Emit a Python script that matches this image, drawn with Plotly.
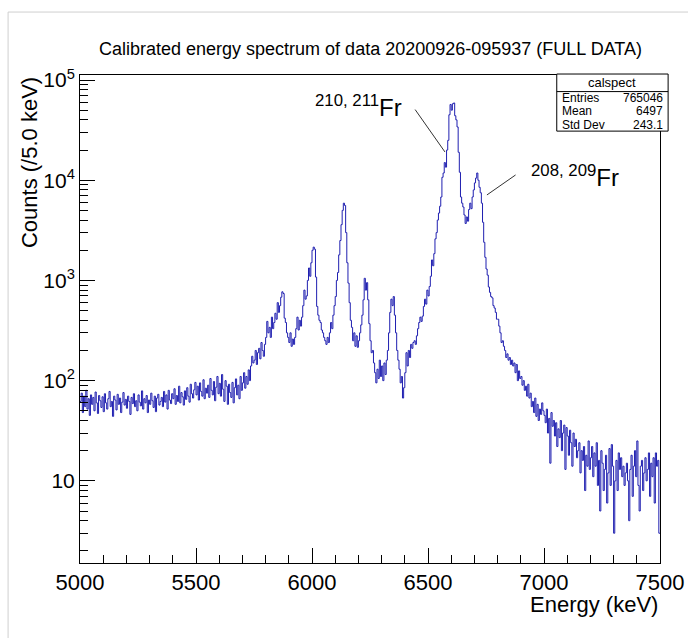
import plotly.graph_objects as go

# ---- histogram definition ----
bin_start = 5000.0   # keV
bin_width = 5.0      # keV

# counts per 5 keV bin (10 bins per row = 50 keV)
counts_5000_5500 = [
    62, 75, 48, 70, 55, 80, 52, 66, 45, 72,
    58, 68, 50, 77, 60, 47, 71, 63, 54, 69,
    49, 74, 60, 52, 66, 78, 55, 62, 44, 70,
    64, 51, 73, 58, 67, 48, 61, 76, 57, 65,
    53, 70, 62, 46, 68, 59, 74, 55, 63, 50,
    72, 61, 56, 79, 52, 66, 60, 71, 48, 64,
    58, 75, 63, 54, 70, 49, 67, 73, 57, 62,
    68, 55, 78, 61, 72, 52, 80, 64, 59, 74,
    66, 83, 58, 71, 62, 88, 60, 76, 69, 57,
    79, 65, 85, 70, 61, 92, 74, 67, 81, 96,
]
counts_5500_6000 = [
    72, 88, 64, 95, 78, 70, 102, 66, 84, 75,
    90, 68, 105, 80, 72, 98, 63, 86, 110, 74,
    94, 70, 115, 82, 62, 100, 88, 58, 92, 76,
    68, 96, 60, 85, 104, 72, 90, 66, 110, 80,
    95, 120, 84, 110, 92, 128, 100, 140, 175, 150,
    160, 200, 145, 190, 210, 165, 240, 200, 175, 230,
    270, 390, 300, 340, 270, 430, 330, 380, 470, 410,
    600, 480, 560, 680, 770, 740, 420, 380, 300, 270,
    240, 300, 220, 260, 230, 270, 330, 430, 320, 400,
    350, 430, 560, 800, 650, 700, 1000, 1330, 1100, 1500,
]
counts_6000_6500 = [
    2000, 2150, 2050, 1080, 550, 450, 400, 380, 320, 300,
    270, 250, 230, 270, 240, 300, 380, 330, 450, 560,
    690, 1000, 1200, 1800, 2500, 3600, 5000, 5900, 5600, 3000,
    1500, 940, 600, 400, 340, 250, 300, 220, 280, 215,
    250, 300, 360, 450, 640, 1050, 800, 950, 640, 370,
    250, 190, 200, 150, 120, 95, 130, 105, 160, 110,
    140, 100, 150, 115, 160, 200, 300, 480, 650, 560,
    690, 450, 300, 200, 160, 130, 95, 110, 67, 85,
    120, 190, 140, 200, 170, 230, 210, 240, 250, 230,
    280, 330, 380, 430, 390, 440, 550, 650, 580, 800,
]
counts_6500_7000 = [
    700, 870, 1100, 1600, 1400, 1850, 2600, 3000, 4000, 4700,
    5500, 6800, 10700, 11800, 15000, 13500, 20000, 25000, 45000, 57000,
    50000, 58000, 59000, 44000, 40000, 34000, 19000, 12000, 6800, 5900,
    5400, 4500, 3700, 4300, 3900, 5100, 5900, 5200, 6800, 8000,
    9400, 10500, 11800, 10000, 8500, 7500, 5900, 3800, 2400, 1700,
    1300, 1130, 860, 760, 690, 670, 560, 530, 480, 410,
    410, 350, 300, 240, 250, 220, 200, 170, 185, 160,
    170, 145, 160, 140, 150, 120, 145, 100, 125, 105,
    110, 90, 100, 80, 88, 70, 92, 67, 75, 55,
    62, 48, 67, 44, 58, 40, 52, 46, 60, 50,
]
counts_7000_7500 = [
    45, 38, 52, 30, 42, 15, 48, 35, 40, 28,
    38, 22, 33, 27, 40, 20, 30, 36, 13, 34,
    28, 18, 32, 24, 14, 30, 22, 26, 17, 20,
    24, 12, 20, 16, 22, 8, 18, 14, 25, 13,
    17, 22, 11, 19, 14, 24, 9, 16, 5, 20,
    15, 8, 13, 18, 6, 12, 21, 9, 23, 14,
    3, 10, 16, 8, 19, 13, 17, 11, 14, 9,
    12, 15, 10, 4, 13, 18, 7, 14, 20, 11,
    25, 9, 5, 14, 16, 8, 12, 17, 10, 13,
    19, 7, 15, 11, 17, 6, 19, 14, 16, 3,
]

y_tick_vals = [10, 100, 1000, 10000, 100000]
y_tick_text = ["10", "10<sup>2</sup>", "10<sup>3</sup>", "10<sup>4</sup>", "10<sup>5</sup>"]
x_tick_vals = [5000, 5500, 6000, 6500, 7000, 7500]

title_text = "Calibrated energy spectrum of data 20200926-095937 (FULL DATA)"
stats_name = "calspect"
stats_rows = [("Entries", "765046"), ("Mean", "6497"), ("Std Dev", "243.1")]

counts = counts_5000_5500 + counts_5500_6000 + counts_6000_6500 + counts_6500_7000 + counts_7000_7500
edges = [bin_start + bin_width * i for i in range(len(counts) + 1)]
y_step = counts + [counts[-1]]

FONT = "Liberation Sans, Arial, Helvetica, sans-serif"
LINE_COLOR = "#1f1fb0"

fig = go.Figure()
fig.add_trace(go.Scatter(
    x=edges, y=y_step, mode="lines",
    line=dict(shape="hv", color=LINE_COLOR, width=1),
    hoverinfo="skip", showlegend=False,
))

fig.update_layout(
    width=688, height=638,
    margin=dict(l=80, r=28, t=75, b=75),
    paper_bgcolor="white", plot_bgcolor="white",
    font=dict(family=FONT, color="black"),
    showlegend=False,
)

fig.update_xaxes(
    range=[5000, 7500], showgrid=False, zeroline=False, automargin=False,
    showline=True, linecolor="black", linewidth=1, mirror=True,
    ticks="inside", ticklen=15, tickcolor="black", tickwidth=1,
    tickvals=x_tick_vals, tickfont=dict(size=22, family=FONT),
    minor=dict(ticks="inside", ticklen=8, dtick=100, tickcolor="black", showgrid=False),
)
fig.update_yaxes(
    type="log", range=[0.18, 5.05], showgrid=False, zeroline=False, automargin=False,
    showline=True, linecolor="black", linewidth=1, mirror=True,
    ticks="inside", ticklen=15, tickcolor="black", tickwidth=1,
    tickvals=y_tick_vals, ticktext=y_tick_text, tickfont=dict(size=21, family=FONT),
    minor=dict(ticks="inside", ticklen=8, dtick="D1", tickcolor="black", showgrid=False),
)

# canvas border (light grey)
fig.add_shape(type="rect", xref="paper", yref="paper",
              x0=-0.124, x1=1.2, y0=-0.3, y1=1.129,
              line=dict(color="#cfcfcf", width=1), layer="below")

# title
fig.add_annotation(text=title_text, xref="paper", yref="paper",
                   x=0.5, y=1.029, xanchor="center", yanchor="bottom",
                   showarrow=False, font=dict(size=18, family=FONT))

# axis titles
fig.add_annotation(text="Energy (keV)", xref="paper", yref="paper",
                   x=1.0, y=-0.056, xanchor="right", yanchor="top",
                   showarrow=False, font=dict(size=22, family=FONT))
fig.add_annotation(text="Counts (/5.0 keV)", xref="paper", yref="paper",
                   x=-0.062, y=1.0, xanchor="right", yanchor="top", textangle=-90,
                   showarrow=False, font=dict(size=22, family=FONT))

# stats box
bx0, bx1, by0, by1, bsep = 0.822, 1.014, 0.885, 1.002, 0.966
fig.add_shape(type="rect", xref="paper", yref="paper",
              x0=bx0, x1=bx1, y0=by0, y1=by1,
              line=dict(color="black", width=1), fillcolor="white", layer="above")
fig.add_shape(type="line", xref="paper", yref="paper",
              x0=bx0, x1=bx1, y0=bsep, y1=bsep,
              line=dict(color="black", width=1))
fig.add_annotation(text=stats_name, xref="paper", yref="paper",
                   x=(bx0 + bx1) / 2, y=(bsep + by1) / 2, xanchor="center", yanchor="middle",
                   showarrow=False, font=dict(size=13, family=FONT))
row_h = (bsep - by0) / len(stats_rows)
for i, (lab, val) in enumerate(stats_rows):
    yc = bsep - row_h * (i + 0.5)
    fig.add_annotation(text=lab, xref="paper", yref="paper", x=bx0 + 0.006, y=yc,
                       xanchor="left", yanchor="middle", showarrow=False,
                       font=dict(size=12, family=FONT))
    fig.add_annotation(text=val, xref="paper", yref="paper", x=bx1 - 0.006, y=yc,
                       xanchor="right", yanchor="middle", showarrow=False,
                       font=dict(size=12, family=FONT))

# peak labels with pointer lines
fig.add_annotation(text="<sup>210, 211</sup>Fr", x=6200, y=4.74, xref="x", yref="y",
                   showarrow=False, font=dict(size=24, family=FONT))
fig.add_annotation(text="", x=6573, y=4.282, xref="x", yref="y",
                   ax=6440, ay=4.72, axref="x", ayref="y",
                   showarrow=True, arrowhead=0, arrowwidth=1, arrowcolor="#333333")
fig.add_annotation(text="<sup>208, 209</sup>Fr", x=7134, y=4.04, xref="x", yref="y",
                   showarrow=False, font=dict(size=24, family=FONT))
fig.add_annotation(text="", x=6754, y=3.853, xref="x", yref="y",
                   ax=6884, ay=4.063, axref="x", ayref="y",
                   showarrow=True, arrowhead=0, arrowwidth=1, arrowcolor="#333333")

fig.write_html("out.html", config={"displayModeBar": False},
               post_script="document.body.style.margin='0';")
